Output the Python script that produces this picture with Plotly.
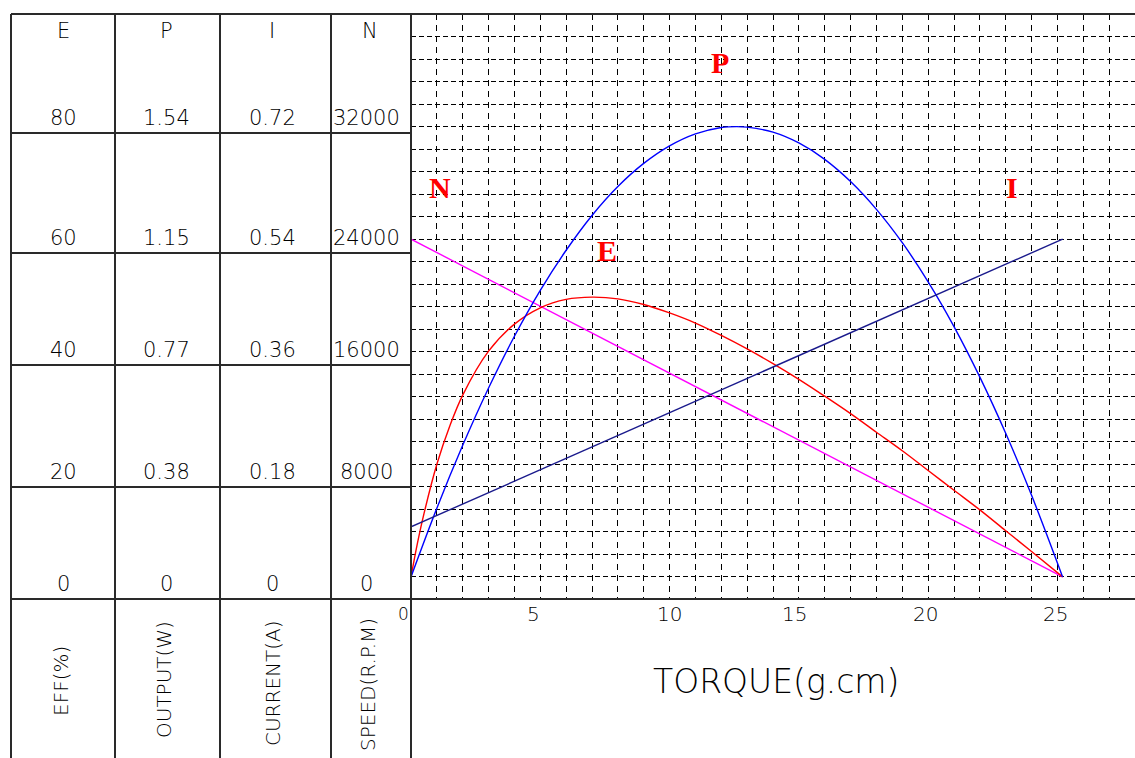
import plotly.graph_objects as go

W, H = 1135, 758

# ---------------- data ----------------
n_torque = [0, 25.2]
n_speed = [24000, 0]

i_torque = [0, 25.2]
i_current = [0.08, 0.54]

p_torque = [0, 1, 2, 3, 4, 5, 6, 7, 8, 9, 10, 11, 12, 12.6, 13, 14, 15, 16, 17,
            18, 19, 20, 21, 22, 23, 24, 25.2]
p_output = [0, 0.235, 0.450, 0.646, 0.823, 0.980, 1.117, 1.236, 1.335, 1.414,
            1.474, 1.515, 1.537, 1.54, 1.538, 1.521, 1.484, 1.428, 1.352, 1.257,
            1.143, 1.009, 0.856, 0.683, 0.491, 0.279, 0]

e_torque = [0, 0.25, 0.5, 1, 1.5, 2, 3, 4, 5, 6, 7, 8, 9, 10, 11, 12, 13, 14,
            15, 16, 17, 18, 19, 20, 21, 22, 23, 24, 25.2]
e_eff = [0, 6.0, 11.2, 20.0, 26.8, 32.3, 40.1, 44.9, 47.8, 49.3, 49.7, 49.4,
         48.4, 46.9, 45.1, 42.9, 40.5, 37.9, 35.1, 32.1, 29.0, 25.7, 22.4,
         18.9, 15.4, 11.9, 8.2, 4.5, 0]

x_tick_vals = [0, 5, 10, 15, 20, 25]
x_tick_text = ["0", "5", "10", "15", "20", "25"]

headers = ["E", "P", "I", "N"]
e_labels = ["80", "60", "40", "20", "0"]
p_labels = ["1.54", "1.15", "0.77", "0.38", "0"]
i_labels = ["0.72", "0.54", "0.36", "0.18", "0"]
n_labels = ["32000", "24000", "16000", "8000", "0"]
unit_labels = ["EFF(%)", "OUTPUT(W)", "CURRENT(A)", "SPEED(R.P.M)"]
curve_names = ["N", "P", "E", "I"]

# ---------------- layout helpers ----------------
def px(x):
    return x / W

def py(y):
    return 1 - y / H

N_RANGE = [-1500, 40000]
scale_e = 80 / 32000
scale_p = 1.54 / 32000
scale_i = 0.72 / 32000

FONT = "DejaVu Sans"
TXT = "#000000"

fig = go.Figure()

fig.add_trace(go.Scatter(x=n_torque, y=n_speed, mode="lines",
                         line=dict(color="#ff00ff", width=1.4), yaxis="y"))
fig.add_trace(go.Scatter(x=i_torque, y=i_current, mode="lines",
                         line=dict(color="#1a1a8c", width=1.4), yaxis="y4"))
fig.add_trace(go.Scatter(x=p_torque, y=p_output, mode="lines",
                         line=dict(color="#0000ff", width=1.4, shape="spline"),
                         yaxis="y3"))
fig.add_trace(go.Scatter(x=e_torque, y=e_eff, mode="lines",
                         line=dict(color="#ff0000", width=1.4, shape="spline"),
                         yaxis="y2"))

dom_x = [px(411), 1]
dom_y = [py(598), py(14)]

fig.update_layout(
    width=W, height=H, margin=dict(l=0, r=0, t=0, b=0),
    paper_bgcolor="white", plot_bgcolor="white", showlegend=False,
    xaxis=dict(domain=dom_x, range=[0, 28], tick0=0, dtick=1, showgrid=True,
               gridcolor="black", gridwidth=1.2, griddash="6px,5px",
               showticklabels=False, zeroline=False, showline=False, ticks=""),
    yaxis=dict(domain=dom_y, range=N_RANGE, tick0=0, dtick=1600, showgrid=True,
               gridcolor="black", gridwidth=1.2, griddash="5px,3px",
               showticklabels=False, zeroline=False, showline=False, ticks=""),
    yaxis2=dict(overlaying="y", range=[N_RANGE[0] * scale_e, N_RANGE[1] * scale_e],
                visible=False),
    yaxis3=dict(overlaying="y", range=[N_RANGE[0] * scale_p, N_RANGE[1] * scale_p],
                visible=False),
    yaxis4=dict(overlaying="y", range=[N_RANGE[0] * scale_i, N_RANGE[1] * scale_i],
                visible=False),
)

# ---------------- table / frame lines ----------------
LC = "#2a2a2a"
shapes = []
def hline(y, x0, x1, w=2):
    shapes.append(dict(type="line", xref="paper", yref="paper", x0=px(x0), x1=px(x1),
                       y0=py(y), y1=py(y), line=dict(color=LC, width=w)))
def vline(x, y0, y1, w=2):
    shapes.append(dict(type="line", xref="paper", yref="paper", x0=px(x), x1=px(x),
                       y0=py(y0), y1=py(y1), line=dict(color=LC, width=w)))

hline(14, 11, W)
for yy in [133, 253, 365, 487]:
    hline(yy, 11, 411)
hline(599, 11, W)
for xx in [11, 115, 220, 331, 411]:
    vline(xx, 14, H)
fig.update_layout(shapes=shapes)

def text_ann(x, y, t, size, xref="paper", yref="paper", angle=0, family=FONT,
             color=TXT, xshift=0, weight="normal"):
    return dict(x=x, y=y, xref=xref, yref=yref, text=t, textangle=angle,
                showarrow=False, xanchor="center", yanchor="middle", xshift=xshift,
                font=dict(family=family, size=size, color=color, weight=weight))

ann = []
col_x = [63, 166, 272, 366]
for cx, h in zip(col_x, headers):
    ann.append(text_ann(px(cx if cx != 366 else 370), py(31), h, 21, weight=200))
row_y = [118, 238, 350, 472, 584]
for cx, labels in zip(col_x, [e_labels, p_labels, i_labels, n_labels]):
    for ry, t in zip(row_y, labels):
        ann.append(text_ann(px(cx), py(ry), t, 21, weight=200))
unit_x = [61, 164, 273, 368]
unit_y = [681, 680, 683, 685]
for ux, uy, t in zip(unit_x, unit_y, unit_labels):
    ann.append(text_ann(px(ux), py(uy), t, 20, angle=-90, weight=200))

tick_shift = [-8, -7, 0, -4, -3, -2]
for v, t, s in zip(x_tick_vals, x_tick_text, tick_shift):
    ann.append(text_ann(v, py(614), t, 17 if v == 0 else 20, xref="x", xshift=s,
                        weight=200))

ann.append(text_ann(px(776), py(681), "TORQUE(g.cm)", 33, weight=200))

curve_pos = {"N": (1.12, 27700), "P": (11.95, 36570), "E": (7.58, 23220), "I": (23.24, 27700)}
for name in curve_names:
    xx, yy = curve_pos[name]
    ann.append(text_ann(xx, yy, "<b>%s</b>" % name, 30, xref="x", yref="y",
                        family="Liberation Serif", color="#ff0000"))

fig.update_layout(annotations=ann)

fig.write_html("out.html", config={"displayModeBar": False},
               post_script="document.body.style.margin='0px';")
